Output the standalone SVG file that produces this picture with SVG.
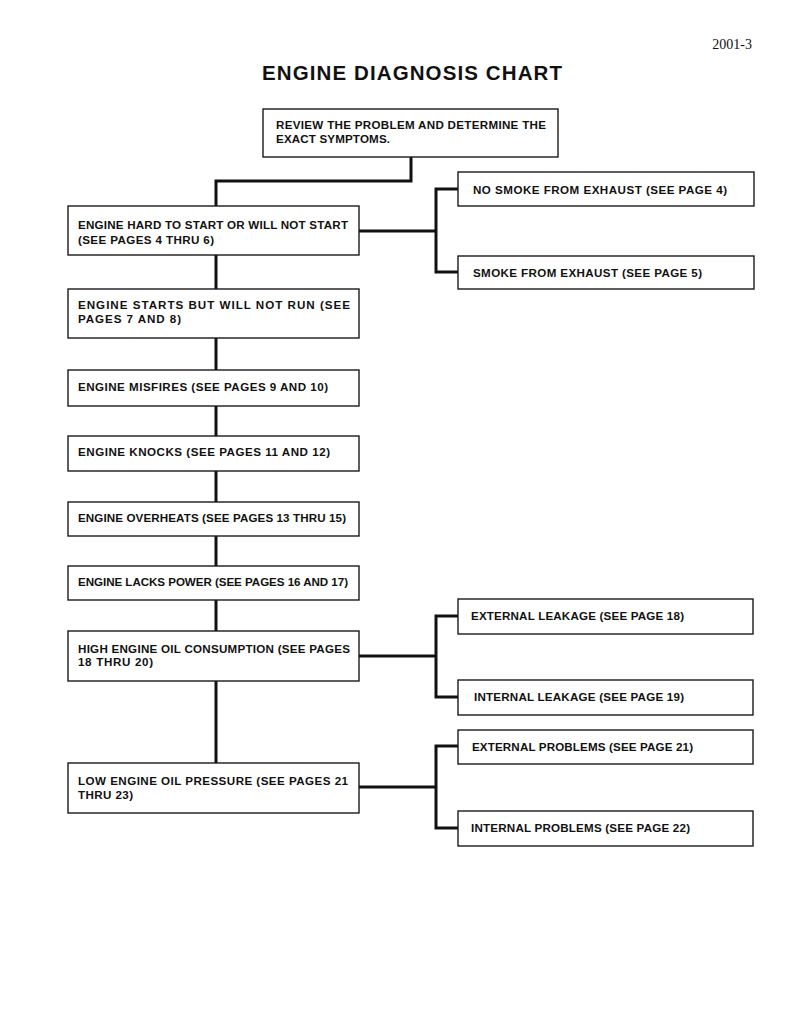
<svg xmlns="http://www.w3.org/2000/svg" width="800" height="1028" viewBox="0 0 800 1028">
<style>
.box{fill:#fff;stroke:#1a1a1a;stroke-width:1.4}
.t{font-family:"Liberation Sans",Arial,sans-serif;font-weight:bold;font-size:11.6px;fill:#111}
.c{fill:none;stroke:#111;stroke-width:3;stroke-linejoin:miter}
</style>
<rect width="800" height="1028" fill="#fff"/>
<text x="752" y="49" text-anchor="end" font-family="Liberation Serif,serif" font-size="14" fill="#111">2001-3</text>
<text x="262" y="80" font-family="Liberation Sans,Arial,sans-serif" font-weight="bold" font-size="20.5" fill="#111" textLength="300" lengthAdjust="spacing">ENGINE DIAGNOSIS CHART</text>
<g id="connectors">
<path class="c" d="M411 157 V181 H216 V206"/>
<path class="c" d="M216 255 V289"/>
<path class="c" d="M216 338 V370"/>
<path class="c" d="M216 406 V436"/>
<path class="c" d="M216 471 V502"/>
<path class="c" d="M216 536 V566"/>
<path class="c" d="M216 600 V631"/>
<path class="c" d="M216 681 V763"/>
<path class="c" d="M359 231 H436"/>
<path class="c" d="M458 189 H436 V272 H458"/>
<path class="c" d="M359 656 H436"/>
<path class="c" d="M458 616 H436 V697 H458"/>
<path class="c" d="M359 787 H436"/>
<path class="c" d="M458 746 H436 V828 H458"/>
</g>
<g id="n0"><rect class="box" x="263" y="109" width="295" height="48"/>
<text class="t" x="276" y="129" textLength="270" lengthAdjust="spacing">REVIEW THE PROBLEM AND DETERMINE THE</text>
<text class="t" x="276" y="143" textLength="114" lengthAdjust="spacing">EXACT SYMPTOMS.</text></g>
<g id="n1"><rect class="box" x="68" y="206" width="291" height="49"/>
<text class="t" x="78" y="229" textLength="270" lengthAdjust="spacing">ENGINE HARD TO START OR WILL NOT START</text>
<text class="t" x="78" y="244" textLength="136" lengthAdjust="spacing">(SEE PAGES 4 THRU 6)</text></g>
<g id="n1a"><rect class="box" x="458" y="172" width="296" height="34"/>
<text class="t" x="473" y="194" textLength="254" lengthAdjust="spacing">NO SMOKE FROM EXHAUST (SEE PAGE 4)</text></g>
<g id="n1b"><rect class="box" x="458" y="256" width="296" height="33"/>
<text class="t" x="473" y="277" textLength="229" lengthAdjust="spacing">SMOKE FROM EXHAUST (SEE PAGE 5)</text></g>
<g id="n2"><rect class="box" x="68" y="289" width="291" height="49"/>
<text class="t" x="78" y="309" textLength="272" lengthAdjust="spacing">ENGINE STARTS BUT WILL NOT RUN (SEE</text>
<text class="t" x="78" y="323" textLength="103" lengthAdjust="spacing">PAGES 7 AND 8)</text></g>
<g id="n3"><rect class="box" x="68" y="370" width="291" height="36"/>
<text class="t" x="78" y="391" textLength="250" lengthAdjust="spacing">ENGINE MISFIRES (SEE PAGES 9 AND 10)</text></g>
<g id="n4"><rect class="box" x="68" y="436" width="291" height="35"/>
<text class="t" x="78" y="456" textLength="252" lengthAdjust="spacing">ENGINE KNOCKS (SEE PAGES 11 AND 12)</text></g>
<g id="n5"><rect class="box" x="68" y="502" width="291" height="34"/>
<text class="t" x="78" y="522" textLength="268" lengthAdjust="spacing">ENGINE OVERHEATS (SEE PAGES 13 THRU 15)</text></g>
<g id="n6"><rect class="box" x="68" y="566" width="291" height="34"/>
<text class="t" x="78" y="586" textLength="270" lengthAdjust="spacing">ENGINE LACKS POWER (SEE PAGES 16 AND 17)</text></g>
<g id="n7"><rect class="box" x="68" y="631" width="291" height="50"/>
<text class="t" x="78" y="653" textLength="272" lengthAdjust="spacing">HIGH ENGINE OIL CONSUMPTION (SEE PAGES</text>
<text class="t" x="78" y="666" textLength="75" lengthAdjust="spacing">18 THRU 20)</text></g>
<g id="n7a"><rect class="box" x="458" y="599" width="295" height="35"/>
<text class="t" x="471" y="620" textLength="213" lengthAdjust="spacing">EXTERNAL LEAKAGE (SEE PAGE 18)</text></g>
<g id="n7b"><rect class="box" x="458" y="680" width="295" height="35"/>
<text class="t" x="474" y="701" textLength="210" lengthAdjust="spacing">INTERNAL LEAKAGE (SEE PAGE 19)</text></g>
<g id="n8"><rect class="box" x="68" y="763" width="291" height="50"/>
<text class="t" x="78" y="785" textLength="270" lengthAdjust="spacing">LOW ENGINE OIL PRESSURE (SEE PAGES 21</text>
<text class="t" x="78" y="799" textLength="55" lengthAdjust="spacing">THRU 23)</text></g>
<g id="n8a"><rect class="box" x="458" y="730" width="295" height="34"/>
<text class="t" x="472" y="751" textLength="221" lengthAdjust="spacing">EXTERNAL PROBLEMS (SEE PAGE 21)</text></g>
<g id="n8b"><rect class="box" x="458" y="811" width="295" height="35"/>
<text class="t" x="471" y="832" textLength="219" lengthAdjust="spacing">INTERNAL PROBLEMS (SEE PAGE 22)</text></g>
</svg>
